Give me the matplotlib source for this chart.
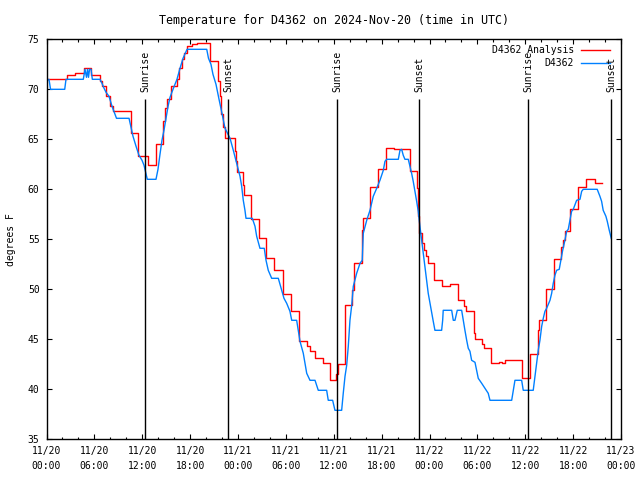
"""
plot.py - temperature trace for D4362, gnuplot-like look.
"""
import matplotlib
matplotlib.use("Agg")
import matplotlib.pyplot as plt
from matplotlib.ticker import MultipleLocator

# ───────────────────────── data (hours since 11/20 00:00 UTC) ──────────────
# red "D4362 Analysis": level starts (drawn as steps)
analysis_h = [0.00, 2.51, 3.57, 4.70, 5.58, 6.64, 6.95, 7.46, 7.96, 8.33,
              10.59, 11.47, 12.66, 13.66, 14.60, 14.79, 15.10, 15.60, 16.29, 16.60,
              16.98, 17.23, 17.61, 18.23, 18.86, 20.55, 21.49, 21.68, 21.87, 22.12,
              22.37, 23.56, 23.75, 23.93, 24.62, 24.81, 25.63, 26.57, 27.57, 28.57,
              29.64, 30.64, 31.64, 32.64, 32.96, 33.71, 34.65, 35.59, 36.34, 36.53,
              37.47, 38.28, 38.53, 39.54, 39.66, 40.60, 41.54, 42.54, 43.61, 45.61,
              46.43, 46.55, 46.74, 47.06, 47.31, 47.56, 47.81, 48.62, 49.56, 50.63,
              51.57, 52.32, 52.57, 53.57, 53.70, 54.57, 54.82, 55.70, 56.70, 57.08,
              57.46, 59.59, 60.59, 61.59, 61.72, 62.59, 63.60, 64.54, 64.72, 64.97,
              65.60, 66.60, 67.61, 68.73, 69.57]
analysis_f = [71.0, 71.4, 71.6, 72.1, 71.4, 70.8, 70.3, 69.3, 68.3, 67.8,
              65.6, 63.3, 62.4, 64.5, 66.8, 68.1, 69.0, 70.3, 71.0, 72.1,
              73.0, 73.6, 74.3, 74.5, 74.6, 72.8, 70.8, 69.3, 67.5, 66.2,
              65.1, 63.8, 62.8, 61.7, 60.4, 59.4, 57.0, 55.1, 53.1, 51.9,
              49.5, 47.8, 44.8, 44.3, 43.8, 43.1, 42.6, 40.9, 41.5, 42.5,
              48.4, 49.9, 52.6, 55.9, 57.1, 60.2, 62.0, 64.1, 64.0, 61.8,
              60.1, 57.3, 55.6, 54.6, 53.9, 53.3, 52.6, 50.9, 50.3, 50.5,
              48.9, 48.3, 47.8, 45.6, 45.0, 44.5, 44.1, 42.6, 42.7, 42.6,
              42.9, 41.1, 43.5, 45.9, 46.9, 50.0, 53.0, 54.2, 54.9, 55.8,
              58.0, 60.2, 61.0, 60.6, 60.6]

# blue "D4362" observations
obs_h = [0.06, 0.31, 0.50, 2.28, 2.44, 4.61, 4.82, 5.01, 5.14, 5.26,
         5.39, 5.58, 5.74, 6.70, 6.95, 7.21, 7.46, 7.83, 8.21, 8.77,
         10.34, 10.84, 11.22, 11.59, 11.97, 12.22, 12.63, 13.72, 13.97, 14.22,
         14.47, 14.72, 14.97, 15.23, 15.48, 15.85, 16.35, 16.73, 17.11, 17.61,
         20.08, 20.30, 20.61, 20.86, 21.24, 21.62, 21.99, 22.37, 23.00, 23.41,
         23.83, 24.25, 24.46, 24.66, 24.87, 25.00, 25.79, 26.13, 26.34, 26.75,
         27.29, 27.51, 27.79, 28.22, 29.05, 29.47, 29.76, 30.10, 30.51, 30.73,
         31.35, 31.55, 31.77, 32.18, 32.39, 32.61, 33.02, 33.65, 34.06, 35.11,
         35.31, 35.86, 36.15, 36.99, 37.19, 37.41, 37.62, 37.82, 38.03, 38.25,
         38.45, 38.87, 39.29, 39.57, 39.70, 40.13, 40.54, 40.95, 41.38, 41.79,
         42.21, 42.42, 42.63, 44.09, 44.30, 44.51, 44.71, 44.92, 45.34, 45.55,
         45.76, 45.96, 46.18, 46.39, 46.59, 46.80, 47.02, 47.22, 47.43, 47.64,
         47.84, 48.06, 48.27, 48.47, 48.68, 49.52, 49.65, 49.72, 50.78, 50.98,
         51.19, 51.48, 52.03, 52.23, 52.44, 52.66, 52.86, 53.07, 53.28, 53.70,
         53.91, 54.11, 54.54, 54.95, 55.36, 55.58, 58.30, 58.50, 58.71, 59.55,
         59.75, 61.00, 61.22, 61.43, 61.63, 61.84, 62.06, 62.26, 62.47, 62.68,
         63.10, 63.31, 63.51, 63.72, 63.93, 64.26, 64.47, 64.69, 64.97, 65.19,
         65.39, 65.60, 65.81, 66.02, 66.44, 66.86, 67.07, 67.27, 69.02, 69.36,
         69.57, 69.77, 70.11, 70.28, 70.53, 70.78]
obs_f = [70.9, 71.0, 70.0, 70.0, 71.0, 71.0, 72.0, 71.2, 72.0, 71.2,
         72.0, 72.0, 71.0, 71.0, 70.6, 70.1, 69.7, 69.3, 68.3, 67.1,
         67.1, 65.3, 64.3, 63.4, 62.9, 62.4, 61.0, 61.0, 62.0, 63.5,
         64.9, 65.9, 67.1, 68.3, 69.2, 70.0, 71.0, 72.1, 73.1, 74.0,
         74.0, 73.1, 72.5, 71.5, 70.5, 69.0, 67.6, 66.1, 65.1, 63.9,
         62.6, 61.3, 60.3, 58.9, 57.9, 57.1, 57.1, 56.3, 55.3, 54.1,
         54.1, 52.9, 51.9, 51.1, 51.1, 49.9, 49.1, 48.6, 47.8, 46.9,
         46.9, 45.9, 44.8, 43.6, 42.6, 41.6, 40.9, 40.9, 39.9, 39.9,
         38.9, 38.9, 37.9, 37.9, 39.6, 41.3, 42.4, 44.3, 46.9, 48.4,
         50.3, 51.6, 52.6, 52.9, 55.6, 56.9, 57.9, 59.3, 60.1, 60.9,
         61.9, 62.8, 63.0, 63.0, 63.9, 64.0, 63.4, 63.0, 63.0, 62.3,
         61.6, 60.8, 59.8, 58.8, 57.8, 56.3, 54.9, 53.6, 52.3, 50.9,
         49.6, 48.6, 47.6, 46.8, 45.9, 45.9, 46.9, 47.9, 47.9, 46.9,
         46.9, 47.9, 47.9, 46.9, 45.9, 44.9, 44.1, 43.8, 42.9, 42.7,
         41.9, 41.1, 40.6, 40.1, 39.6, 38.9, 38.9, 39.9, 40.9, 40.9,
         39.9, 39.9, 41.3, 42.6, 43.9, 44.9, 46.3, 47.1, 47.8, 48.1,
         48.9, 49.6, 50.6, 51.4, 51.9, 52.0, 52.9, 53.9, 54.9, 55.8,
         56.0, 56.9, 57.8, 58.0, 58.9, 59.0, 59.8, 60.0, 60.0, 59.3,
         58.8, 57.9, 57.3, 56.8, 55.9, 55.1]

sun_h = [12.38, 22.78, 36.44, 46.72, 60.38, 70.78]
sun_lbl = ["Sunrise", "Sunset", "Sunrise", "Sunset", "Sunrise", "Sunset"]

tick_h = [0, 6, 12, 18, 24, 30, 36, 42, 48, 54, 60, 66, 72]
tick_lbl = ["11/20\n00:00", "11/20\n06:00", "11/20\n12:00", "11/20\n18:00",
            "11/21\n00:00", "11/21\n06:00", "11/21\n12:00", "11/21\n18:00",
            "11/22\n00:00", "11/22\n06:00", "11/22\n12:00", "11/22\n18:00",
            "11/23\n00:00"]

# ───────────────────────── figure ──────────────────────────────────────────
plt.rcParams["font.family"] = ["DejaVu Sans Mono"]
plt.rcParams["font.size"] = 7

fig = plt.figure(figsize=(6.4, 4.8), dpi=100)
ax = fig.add_axes([0.0727, 0.0848, 0.8976, 0.8333])

ax.plot(analysis_h, analysis_f, drawstyle="steps-post", color="#ff0000", lw=1.0)
ax.plot(obs_h, obs_f, color="#0080ff", lw=1.0)

ax.vlines(sun_h, 35, 69.05, colors="black", lw=1.0)
for h, lbl in zip(sun_h, sun_lbl):
    ax.text(h, 69.7, lbl, rotation=90, ha="center", va="bottom")

ax.set_xlim(0, 72)
ax.set_ylim(35, 75)
ax.set_xticks(tick_h)
ax.set_xticklabels(tick_lbl, linespacing=1.6)
ax.xaxis.set_minor_locator(MultipleLocator(2))
ax.yaxis.set_major_locator(MultipleLocator(5))
ax.tick_params(which="both", direction="in", top=True, right=True, width=0.8)
ax.tick_params(which="major", length=3.6, pad=5)
ax.tick_params(which="minor", length=1.8)
for s in ax.spines.values():
    s.set_linewidth(1.0)

ax.set_ylabel("degrees F", labelpad=8.5)
ax.set_title("Temperature for D4362 on 2024-Nov-20 (time in UTC)", pad=11)

# legend, gnuplot style: text right-aligned, sample on the right
leg_rows = [("D4362 Analysis", "#ff0000", 0.973), ("D4362", "#0080ff", 0.9415)]
for lbl, col, yy in leg_rows:
    ax.text(0.918, yy, lbl, transform=ax.transAxes, ha="right", va="center")
    ax.plot([0.930, 0.981], [yy, yy], transform=ax.transAxes, color=col, lw=1.0)

fig.savefig("out.png", dpi=100)
